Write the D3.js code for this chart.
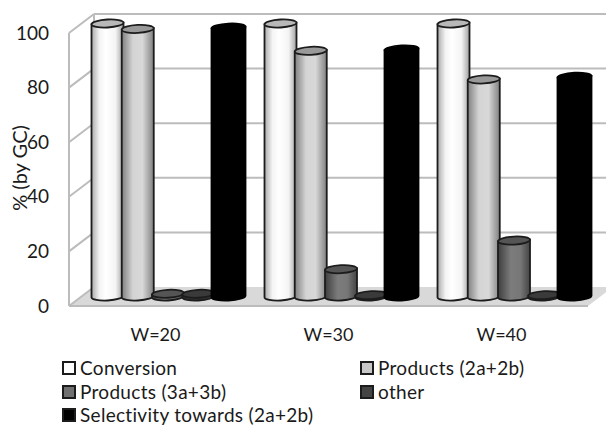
<!DOCTYPE html>
<html><head><meta charset="utf-8">
<script src="https://cdn.jsdelivr.net/npm/d3@7"></script>
<style>html,body{margin:0;background:#fff}svg{display:block}text{font-family:Lato,"Open Sans",sans-serif;fill:#1a1a1a}</style>
</head><body><svg id="c" width="606" height="425"></svg>
<script>
const categories = ["W=20","W=30","W=40"];
const seriesNames = ["Conversion","Products (2a+2b)","Products (3a+3b)","other","Selectivity towards (2a+2b)"];
const conversion = [100,100,100];
const products2 = [98,90,79.5];
const products3 = [1,10,20.5];
const other = [1,0.5,0.5];
const selectivity = [98.5,90.5,80.5];
const seriesValues = [conversion,products2,products3,other,selectivity];
const yTicks = [0,20,40,60,80,100];
const swatchColors = ["#ffffff","#c8c8c8","#707070","#444444","#000000"];
const topColors = ["#b8b8b8","#999999","#555555","#3a3a3a","#000000"];
const gradients = [
 [["0%","#aaaaaa"],["25%","#f4f4f4"],["45%","#ffffff"],["75%","#f4f4f4"],["100%","#a0a0a0"]],
 [["0%","#808080"],["35%","#d4d4d4"],["65%","#d8d8d8"],["100%","#808080"]],
 [["0%","#3e3e3e"],["40%","#7c7c7c"],["70%","#777777"],["100%","#444444"]],
 [["0%","#333333"],["100%","#333333"]],
 [["0%","#000000"],["100%","#000000"]]
];

const svg = d3.select("#c");
const depthX = 25, depthY = 19;
const x = d3.scaleBand().domain(categories).range([69,588]);
const y = d3.scaleLinear().domain([0,100]).range([306,33]);
const inner = d3.scalePoint().domain(d3.range(5)).range([-60.5,60.5]);
const gridColor = "#bcbcbc";

const defs = svg.append("defs");
gradients.forEach((g,i)=>{
  const lg = defs.append("linearGradient").attr("id","g"+i).attr("x1","0").attr("x2","1").attr("y1","0").attr("y2","0");
  g.forEach(s=>lg.append("stop").attr("offset",s[0]).attr("stop-color",s[1]));
});

// floor
const right = x.range()[1], left = x.range()[0];
svg.append("path")
  .attr("d",`M${left},${y(0)}L${left+depthX},${y(0)-depthY}L${right+depthX},${y(0)-depthY}L${right},${y(0)}Z`)
  .attr("fill","#d9d9d9");
svg.append("line").attr("x1",left).attr("x2",right).attr("y1",y(0)).attr("y2",y(0))
  .attr("stroke",gridColor).attr("stroke-width",2);

// walls and gridlines
yTicks.forEach(t=>{
  const yy = y(t);
  svg.append("line").attr("x1",left).attr("y1",yy).attr("x2",left+depthX).attr("y2",yy-depthY)
    .attr("stroke",gridColor).attr("stroke-width",2);
  if(t>0) svg.append("line").attr("x1",left+depthX).attr("y1",yy-depthY).attr("x2",606).attr("y2",yy-depthY)
    .attr("stroke",gridColor).attr("stroke-width",2);
});
svg.append("line").attr("x1",left).attr("x2",left).attr("y1",y(100)).attr("y2",y(0)).attr("stroke",gridColor).attr("stroke-width",2);
svg.append("line").attr("x1",left+depthX).attr("x2",left+depthX).attr("y1",y(100)-depthY).attr("y2",y(0)-depthY).attr("stroke",gridColor).attr("stroke-width",2);

// bars
const tilt = 3, ry = 4;
categories.forEach((c,ci)=>{
  seriesValues.forEach((vals,si)=>{
    const v = vals[ci];
    const black = si===4;
    const rx = black ? 17 : 16;
    const cx = x(c)+x.bandwidth()/2+depthX/2+inner(si);
    const by = y(0)-depthY/2, ty = y(v)-depthY/2;
    const d = rx*Math.sin(tilt*Math.PI/180);
    const g = svg.append("g");
    const stroke = black ? "#000" : "#1c1c1c";
    g.append("path")
      .attr("d",`M${cx-rx},${ty+d}L${cx-rx},${by+d}A${rx},${ry},${-tilt},0,0,${cx+rx},${by-d}L${cx+rx},${ty-d}Z`)
      .attr("fill",`url(#g${si})`).attr("stroke",stroke).attr("stroke-width",1.8);
    g.append("ellipse").attr("cx",cx).attr("cy",ty).attr("rx",rx).attr("ry",ry)
      .attr("transform",`rotate(${-tilt},${cx},${ty})`)
      .attr("fill",topColors[si]).attr("stroke",stroke).attr("stroke-width",1.8);
  });
});

// axes
const ay = svg.append("g").attr("transform","translate(55,0)")
  .call(d3.axisLeft(y).tickValues(yTicks).tickSize(0).tickPadding(6));
ay.select(".domain").remove();
ay.selectAll("text").style("font-size","19px").style("font-family","Lato,sans-serif").attr("fill","#1a1a1a");
const ax = svg.append("g").attr("transform","translate(0,323)")
  .call(d3.axisBottom(x).tickSize(0).tickPadding(5));
ax.select(".domain").remove();
ax.selectAll("text").style("font-size","18px").style("font-family","Lato,sans-serif").attr("fill","#1a1a1a");

svg.append("text").attr("transform","translate(27,168) rotate(-90)")
  .attr("text-anchor","middle").style("font-size","20px").text("% (by GC)");

// legend
const lx = [62,360], ly = [368,392,415];
seriesNames.forEach((n,i)=>{
  const col = i%2, row = Math.floor(i/2);
  svg.append("rect").attr("x",lx[col]+1).attr("y",ly[row]-6).attr("width",12).attr("height",12)
    .attr("fill",swatchColors[i]).attr("stroke","#1c1c1c").attr("stroke-width",2);
  svg.append("text").attr("x",lx[col]+18).attr("y",ly[row]).attr("dy","0.35em")
    .style("font-size","19px").style("letter-spacing","0.3px").text(n);
});
</script></body></html>
